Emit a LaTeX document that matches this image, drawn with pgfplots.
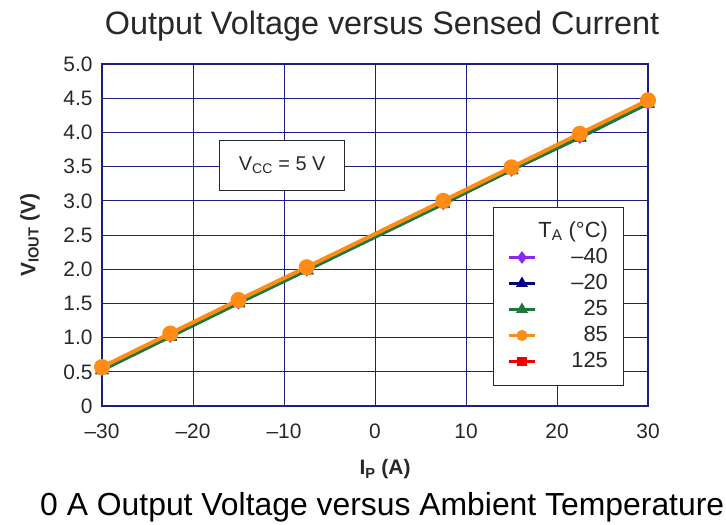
\documentclass[border=0pt]{standalone}
\usepackage{fontspec}
\setmainfont{Liberation Sans}
\usepackage{pgfplots}
\pgfplotsset{compat=1.18}
\definecolor{gridnavy}{RGB}{30,30,130}
\definecolor{cpurple}{RGB}{140,40,240}
\definecolor{cnavy}{RGB}{0,0,120}
\definecolor{cgreen}{RGB}{30,120,60}
\definecolor{corange}{RGB}{255,140,20}
\definecolor{cred}{RGB}{240,0,0}
\definecolor{txt}{RGB}{40,40,40}
\begin{document}
\begin{tikzpicture}
\useasboundingbox (0,0) rectangle (726bp,525bp);
\fill[white] (0,0) rectangle (726bp,525bp);
\begin{axis}[
  at={(102bp,119bp)}, anchor=south west,
  scale only axis, width=546bp, height=342bp,
  xmin=-30, xmax=30, ymin=0, ymax=5,
  xtick={-30,-20,...,30},
  xticklabels={--30,--20,--10,0,10,20,30},
  ytick={0,0.5,...,5},
  yticklabels={0,0.5,1.0,1.5,2.0,2.5,3.0,3.5,4.0,4.5,5.0},
  grid=major,
  major grid style={gridnavy, line width=1pt},
  axis line style={gridnavy, line width=1.4pt},
  tick style={draw=none},
  ticklabel style={font=\fontsize{21}{24}\selectfont, text=txt},
  xticklabel style={yshift=-14bp},
  yticklabel style={xshift=-6bp},
  clip=false,
  legend cell align=right,
  legend style={at={(493bp-102bp,318bp-119bp)}, anchor=north west,
    draw=txt, line width=1pt, font=\fontsize{22}{26}\selectfont, text=txt,
    inner xsep=14bp, inner ysep=12bp, row sep=2bp,
    nodes={inner sep=2bp, text height=16bp, text depth=4bp, font=\fontsize{22}{26}\selectfont, text=txt},
    /tikz/every even column/.append style={column sep=6bp}},
  legend image code/.code={\draw[line width=3pt, mark repeat=2, mark phase=2] plot coordinates {(0bp,0bp) (13bp,0bp) (26bp,0bp)};},
]
\addlegendimage{empty legend}
\addlegendentry{T\textsubscript{A} (°C)}
\addplot[cpurple, line width=3pt, mark=diamond*, mark size=5pt, forget plot] coordinates {
 (-30,0.54) (-22.5,1.03) (-15,1.52) (-7.5,2.00) (7.5,2.97) (15,3.46) (22.5,3.94) (30,4.43)};
\addplot[cred, line width=3pt, mark=square*, mark size=4pt, forget plot] coordinates {
 (-30,0.56) (-22.5,1.05) (-15,1.54) (-7.5,2.02) (7.5,2.99) (15,3.48) (22.5,3.97) (30,4.46)};
\addplot[cnavy, line width=3pt, mark=triangle*, mark size=5pt, forget plot] coordinates {
 (-30,0.53) (-22.5,1.02) (-15,1.51) (-7.5,1.99) (7.5,2.96) (15,3.45) (22.5,3.93) (30,4.42)};
\addplot[cgreen, line width=3pt, mark=triangle*, mark size=5pt, forget plot] coordinates {
 (-30,0.52) (-22.5,1.01) (-15,1.50) (-7.5,1.98) (7.5,2.95) (15,3.45) (22.5,3.92) (30,4.42)};
\addplot[corange, line width=4pt, mark=*, mark size=6pt, forget plot] coordinates {
 (-30,0.57) (-22.5,1.06) (-15,1.55) (-7.5,2.03) (7.5,3.00) (15,3.49) (22.5,3.98) (30,4.47)};
\addlegendimage{cpurple, mark=diamond*, mark size=4pt}
\addlegendentry{--40}
\addlegendimage{cnavy, mark=triangle*, mark size=4pt}
\addlegendentry{--20}
\addlegendimage{cgreen, mark=triangle*, mark size=4pt}
\addlegendentry{25}
\addlegendimage{corange, mark=*, mark size=4pt}
\addlegendentry{85}
\addlegendimage{cred, mark=square*, mark size=3.5pt}
\addlegendentry{125}
\node[draw=txt, line width=1pt, fill=white, minimum width=125bp, minimum height=50bp,
  font=\fontsize{20}{24}\selectfont, text=txt] at (axis cs:-10.2,3.52) {V\textsubscript{CC} = 5 V};
\end{axis}
\node[anchor=base, font=\fontsize{32.5}{38}\selectfont, text=txt] at (382bp,490bp) {Output Voltage versus Sensed Current};
\node[anchor=base west, inner sep=0pt, font=\fontsize{32}{38}\selectfont, text=black] at (40bp,10bp) {0 A Output Voltage versus Ambient Temperature};
\node[anchor=base, font=\bfseries\fontsize{21}{24}\selectfont, text=txt] at (385bp,50bp) {I\textsubscript{P} (A)};
\node[rotate=90, font=\bfseries\fontsize{21}{24}\selectfont, text=txt] at (30bp,290bp) {V\textsubscript{IOUT} (V)};
\end{tikzpicture}
\end{document}
